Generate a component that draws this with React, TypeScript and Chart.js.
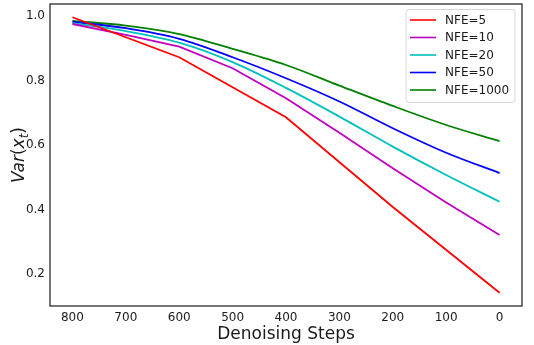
import React, { useEffect, useRef } from "react";
import { Chart, registerables } from "chart.js";

Chart.register(...registerables);

// Denoising step grids
const stepsCoarse = [800, 600, 400, 200, 0];
const stepsFine = [800, 700, 600, 500, 400, 300, 200, 100, 0];

// Variance of x_t along the sampling trajectory for each NFE budget
const varNFE5 = [0.996, 0.872, 0.686, 0.408, 0.142];
const varNFE10 = [0.975, 0.941, 0.905, 0.838, 0.745, 0.638, 0.528, 0.422, 0.321];
const varNFE20 = [0.978, 0.953, 0.917, 0.857, 0.777, 0.688, 0.595, 0.507, 0.424];
const varNFE50 = [0.982, 0.962, 0.929, 0.872, 0.807, 0.735, 0.652, 0.576, 0.513];
const varNFE1000 = [0.985, 0.970, 0.944, 0.898, 0.848, 0.784, 0.721, 0.662, 0.612];

const seriesLabels = ["NFE=5", "NFE=10", "NFE=20", "NFE=50", "NFE=1000"];
const seriesColors = ["#ff0000", "#bf00bf", "#00bfbf", "#0000ff", "#008000"];

const xTicks = [800, 700, 600, 500, 400, 300, 200, 100, 0];
const yTicks = [0.2, 0.4, 0.6, 0.8, 1.0];

const FONT = "'DejaVu Sans', sans-serif";
const TEXT_COLOR = "#1a1a1a";

const toPoints = (xs: number[], ys: number[]) => xs.map((x, i) => ({ x, y: ys[i] }));

const framePlugin = {
  id: "frame",
  afterDatasetsDraw(chart: any) {
    const { ctx, chartArea: a } = chart;
    ctx.save();
    ctx.strokeStyle = TEXT_COLOR;
    ctx.lineWidth = 1.2;
    ctx.strokeRect(a.left, a.top, a.right - a.left, a.bottom - a.top);
    ctx.restore();
  },
};

const legendPlugin = {
  id: "boxLegend",
  afterDraw(chart: any) {
    const { ctx } = chart;
    const x0 = 406;
    const y0 = 9.5;
    const w = 109;
    const h = 93;
    const r = 3;
    ctx.save();
    ctx.beginPath();
    ctx.moveTo(x0 + r, y0);
    ctx.arcTo(x0 + w, y0, x0 + w, y0 + h, r);
    ctx.arcTo(x0 + w, y0 + h, x0, y0 + h, r);
    ctx.arcTo(x0, y0 + h, x0, y0, r);
    ctx.arcTo(x0, y0, x0 + w, y0, r);
    ctx.closePath();
    ctx.fillStyle = "rgba(255,255,255,0.85)";
    ctx.fill();
    ctx.strokeStyle = "#d6d6d6";
    ctx.lineWidth = 1;
    ctx.stroke();
    ctx.font = `12px ${FONT}`;
    ctx.textBaseline = "middle";
    ctx.textAlign = "left";
    chart.data.datasets.forEach((ds: any, i: number) => {
      const cy = 20 + i * 17.5;
      ctx.strokeStyle = ds.borderColor;
      ctx.lineWidth = 1.6;
      ctx.beginPath();
      ctx.moveTo(410, cy);
      ctx.lineTo(436, cy);
      ctx.stroke();
      ctx.fillStyle = TEXT_COLOR;
      ctx.fillText(ds.label, 445, cy + 0.5);
    });
    ctx.restore();
  },
};

const yTitlePlugin = {
  id: "yTitle",
  afterDraw(chart: any) {
    const { ctx, chartArea: a } = chart;
    const main = `italic 17px ${FONT}`;
    const sub = `italic 12px ${FONT}`;
    const paren = `17px ${FONT}`;
    ctx.save();
    ctx.font = main;
    const w1 = ctx.measureText("Var").width;
    ctx.font = paren;
    const w2 = ctx.measureText("(").width;
    ctx.font = main;
    const w3 = ctx.measureText("x").width;
    ctx.font = sub;
    const w4 = ctx.measureText("t").width;
    ctx.font = paren;
    const w5 = ctx.measureText(")").width;
    const total = w1 + w2 + w3 + w4 + w5;
    const cy = (a.top + a.bottom) / 2;
    ctx.translate(24, cy);
    ctx.rotate(-Math.PI / 2);
    ctx.fillStyle = TEXT_COLOR;
    ctx.textBaseline = "alphabetic";
    ctx.textAlign = "left";
    let x = -total / 2;
    ctx.font = main;
    ctx.fillText("Var", x, 0);
    x += w1;
    ctx.font = paren;
    ctx.fillText("(", x, 0);
    x += w2;
    ctx.font = main;
    ctx.fillText("x", x, 0);
    x += w3;
    ctx.font = sub;
    ctx.fillText("t", x, 3.5);
    x += w4;
    ctx.font = paren;
    ctx.fillText(")", x, 0);
    ctx.restore();
  },
};

export default function App() {
  const canvasRef = useRef<HTMLCanvasElement | null>(null);

  useEffect(() => {
    document.body.style.margin = "0";
    const canvas = canvasRef.current;
    if (!canvas) return;

    const valueSets = [varNFE5, varNFE10, varNFE20, varNFE50, varNFE1000];
    const datasets = valueSets.map((vals, i) => ({
      label: seriesLabels[i],
      data: toPoints(i === 0 ? stepsCoarse : stepsFine, vals),
      borderColor: seriesColors[i],
      backgroundColor: seriesColors[i],
      borderWidth: 1.8,
      pointRadius: 0,
      fill: false,
      cubicInterpolationMode: i >= 2 ? ("monotone" as const) : ("default" as const),
      tension: 0,
    }));

    const chart = new Chart(canvas, {
      type: "line",
      data: { datasets },
      plugins: [framePlugin, legendPlugin, yTitlePlugin],
      options: {
        animation: false,
        responsive: true,
        maintainAspectRatio: false,
        layout: { padding: { left: 0, top: 4, right: 12, bottom: 0 } },
        plugins: {
          legend: { display: false },
          tooltip: { enabled: false },
        },
        scales: {
          x: {
            type: "linear",
            reverse: true,
            min: -42,
            max: 842,
            grid: { display: false, drawTicks: false },
            border: { display: false },
            afterBuildTicks: (scale: any) => {
              scale.ticks = xTicks.map((v) => ({ value: v }));
            },
            afterFit: (scale: any) => {
              scale.height = 39;
              scale.paddingLeft = 0;
              scale.paddingRight = 0;
            },
            ticks: {
              padding: 5,
              maxRotation: 0,
              autoSkip: false,
              color: TEXT_COLOR,
              font: { family: FONT, size: 12 },
              callback: (v: any) => String(v),
            },
            title: {
              display: true,
              text: "Denoising Steps",
              color: TEXT_COLOR,
              font: { family: FONT, size: 17 },
              padding: { top: 0, bottom: 0 },
            },
          },
          y: {
            type: "linear",
            min: 0.101,
            max: 1.037,
            grid: { display: false, drawTicks: false },
            border: { display: false },
            afterBuildTicks: (scale: any) => {
              scale.ticks = yTicks.map((v) => ({ value: v }));
            },
            afterFit: (scale: any) => {
              scale.width = 50;
              scale.paddingTop = 0;
              scale.paddingBottom = 0;
            },
            ticks: {
              padding: 5,
              autoSkip: false,
              color: TEXT_COLOR,
              font: { family: FONT, size: 12 },
              callback: (v: any) => Number(v).toFixed(1),
            },
          },
        },
      },
    });

    return () => chart.destroy();
  }, []);

  return (
    <div style={{ width: 534, height: 345, position: "relative" }}>
      <canvas ref={canvasRef} />
    </div>
  );
}
